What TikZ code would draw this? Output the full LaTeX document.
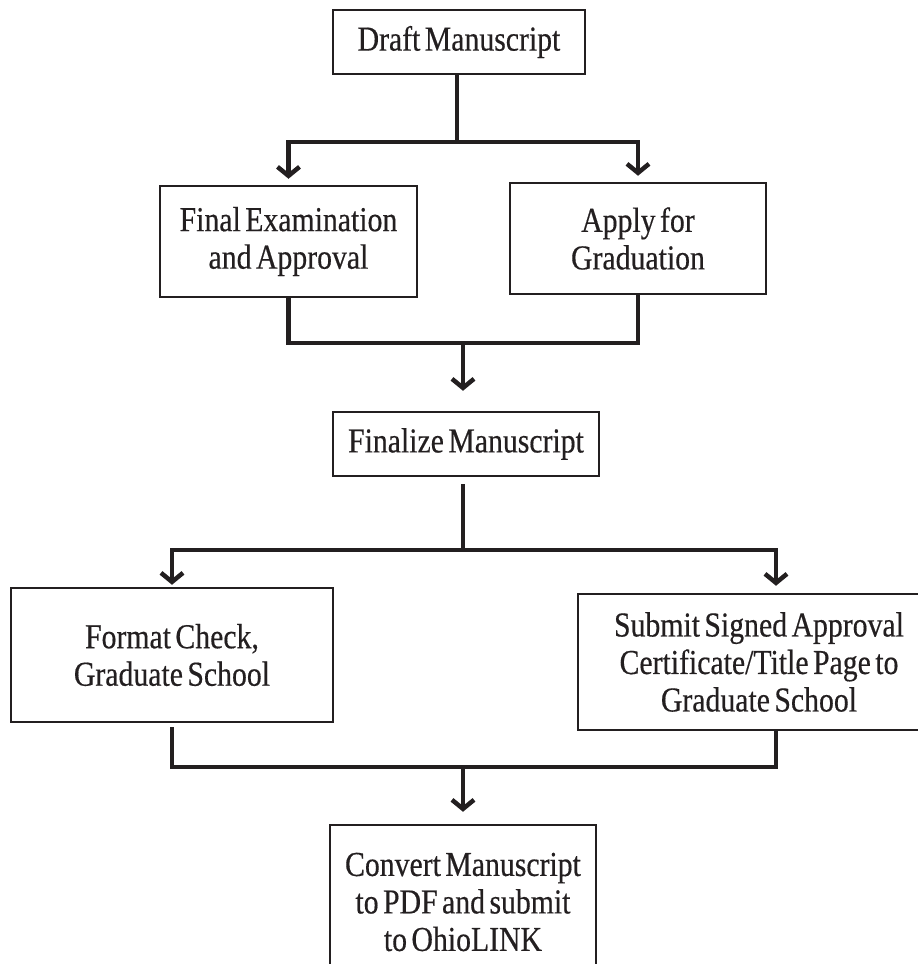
\documentclass[tikz,border=0pt]{standalone}
\usepackage{fontspec}
\setmainfont{Liberation Serif}[FakeStretch=0.85,WordSpace=0.6,FakeBold=0.4]
\usetikzlibrary{arrows.meta}
\definecolor{ink}{RGB}{35,31,32}
\tikzset{
  box/.style={draw=ink, line width=2.5pt, inner sep=0pt, align=center, text=ink,
    font=\fontsize{35}{37.5}\selectfont},
  conn/.style={draw=ink, line width=4.5pt, line join=miter},
  arr/.style={-{Straight Barb[length=9pt,width=22pt,line width=4.5pt]}}
}
\begin{document}
\begin{tikzpicture}[x=1pt,y=-1pt]
\useasboundingbox (0,0) rectangle (918,964);
\clip (0,0) rectangle (918,964);
\node[box, minimum width=252pt, minimum height=64pt] (draft) at (459,42) {Draft Manuscript};
\node[box, minimum width=257pt, minimum height=111pt] (fe) at (288.5,241.5) {Final Examination\\and Approval};
\node[box, minimum width=256pt, minimum height=111pt] (ap) at (638,238.5) {Apply for\\Graduation};
\node[box, minimum width=266pt, minimum height=64pt] (fin) at (466,444) {Finalize Manuscript};
\node[box, minimum width=322pt, minimum height=134pt] (fc) at (172,655) {Format Check,\\Graduate School};
\node[box, minimum width=362pt, minimum height=136pt] (sub) at (759,662) {Submit Signed Approval\\Certificate/Title Page to\\Graduate School};
\node[box, minimum width=266pt, minimum height=154pt] (conv) at (463,902) {Convert Manuscript\\to PDF and submit\\to OhioLINK};
\coordinate (b1) at (0,142);
\coordinate (b2) at (0,343);
\coordinate (b3) at (0,550);
\coordinate (b4) at (0,767);
\coordinate (subx) at (776,0);
% draft -> fe, ap
\draw[conn] ([xshift=-2pt]draft.south) -- ([xshift=-2pt]draft.south |- b1);
\draw[conn,arr] ([xshift=-2pt]draft.south |- b1) -| ([yshift=6pt]fe.north);
\draw[conn,arr] ([xshift=-2pt]draft.south |- b1) -| ([yshift=6pt]ap.north);
% fe, ap -> fin
\draw[conn] (fe.south) |- ([xshift=-3pt]fin.north |- b2) -| (ap.south);
\draw[conn,arr] ([xshift=-3pt]fin.north |- b2) -- ([xshift=-3pt,yshift=20pt]fin.north);
% fin -> fc, sub
\draw[conn] ([xshift=-3pt,yshift=-7pt]fin.south) -- ([xshift=-3pt]fin.south |- b3);
\draw[conn,arr] ([xshift=-3pt]fin.south |- b3) -| ([yshift=2pt]fc.north);
\draw[conn,arr] ([xshift=-3pt]fin.south |- b3) -| ([yshift=7pt]sub.north -| subx);
% fc, sub -> conv
\draw[conn] ([yshift=-4pt]fc.south) |- (conv.north |- b4) -| (sub.south -| subx);
\draw[conn,arr] (conv.north |- b4) -- ([yshift=12pt]conv.north);
\end{tikzpicture}
\end{document}
